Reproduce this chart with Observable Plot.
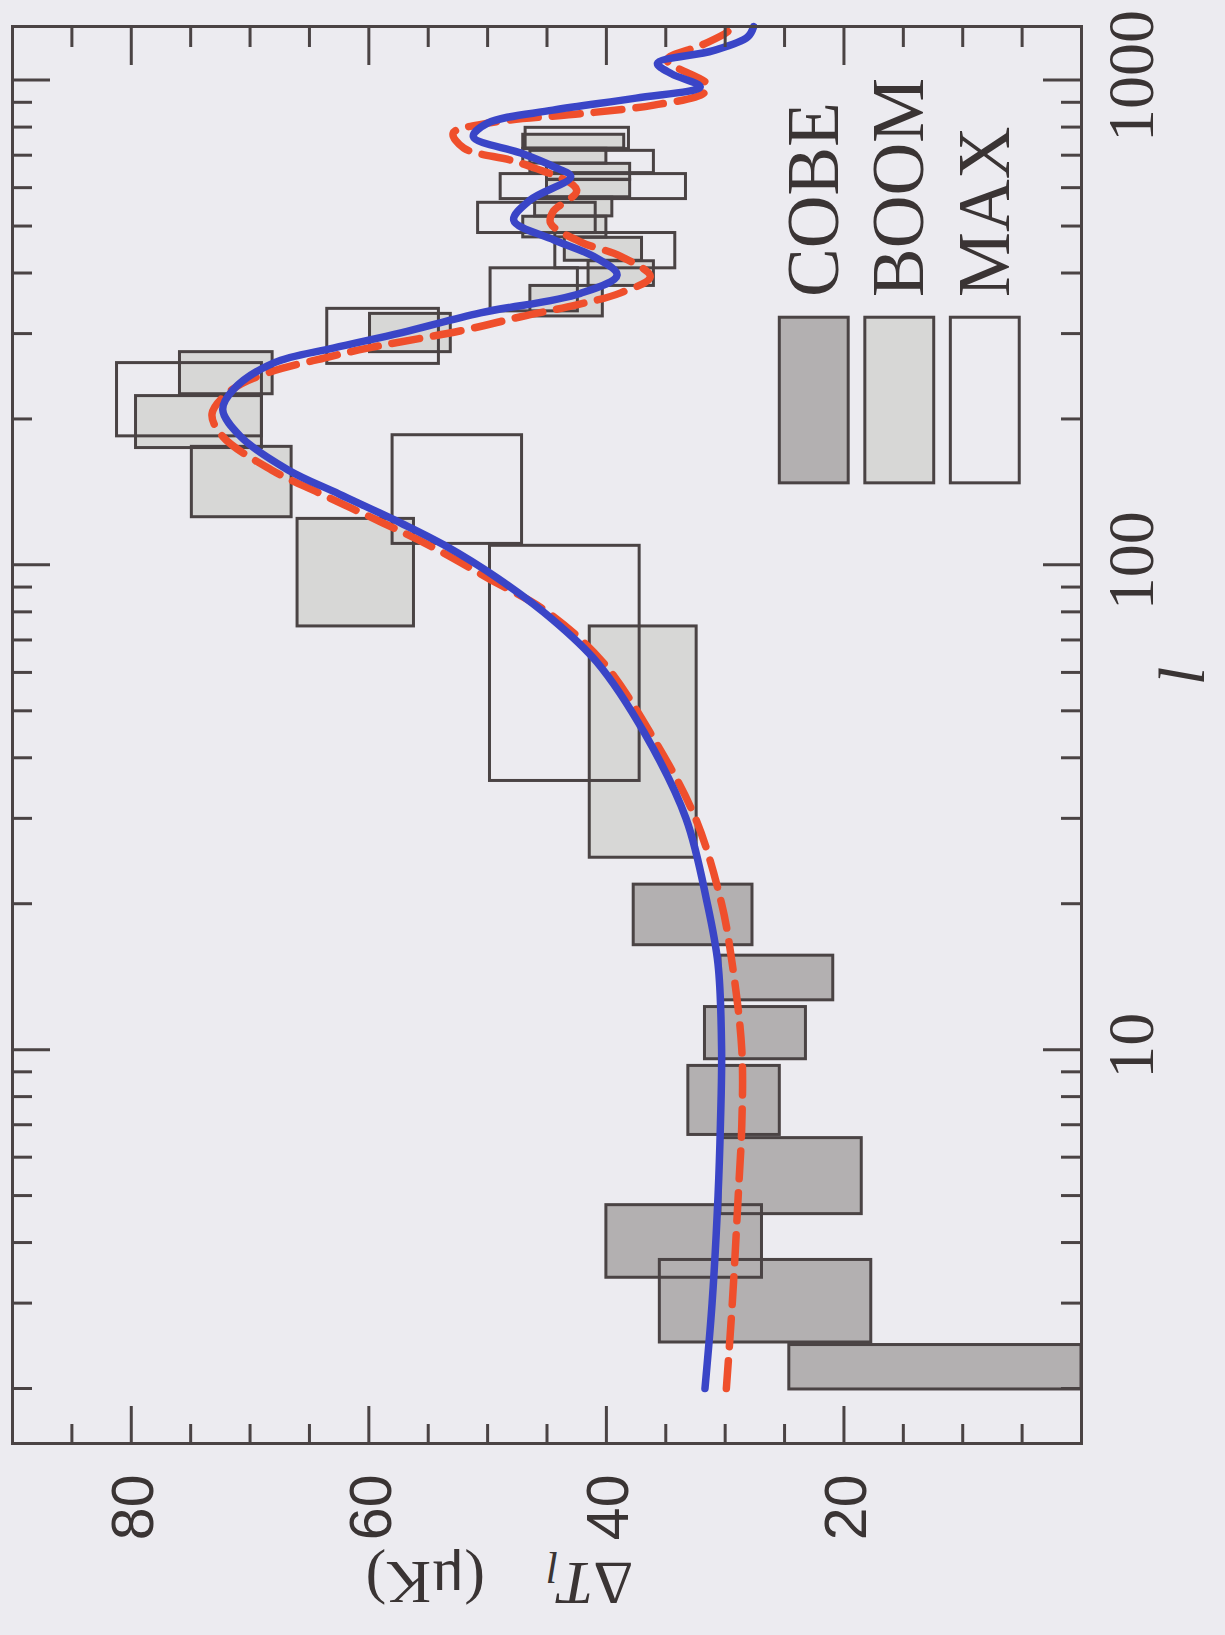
<!DOCTYPE html>
<html>
<head>
<meta charset="utf-8">
<script src="https://cdn.jsdelivr.net/npm/d3@7"></script>
<script src="https://cdn.jsdelivr.net/npm/@observablehq/plot@0.6"></script>
<style>
  html, body { margin: 0; padding: 0; background: #ecebf0; }
  #wrap { position: relative; width: 1225px; height: 1635px; overflow: hidden; background: #ecebf0; }
  #wrap svg { position: absolute; left: 0; top: 0; transform-origin: 0 0; transform: translate(0px, 1635px) rotate(-90deg); }
</style>
</head>
<body>
<div id="wrap"></div>
<script>
// Band powers: multipole range [lMin, lMax] and temperature range [tMin, tMax] (μK)
const cobeLMin = [2.0, 2.5, 3.4, 4.6, 6.7, 9.6, 12.7, 16.5];
const cobeLMax = [2.47, 3.7, 4.8, 6.6, 9.3, 12.3, 15.7, 22.0];
const cobeTMin = [0, 17.7, 26.9, 18.5, 25.4, 23.2, 20.9, 27.7];
const cobeTMax = [24.6, 35.5, 40.0, 30.4, 33.1, 31.7, 30.4, 37.7];

const boomLMin = [25, 75, 126, 175, 226, 276, 327, 378, 426, 476, 526, 576, 626, 676, 726];
const boomLMax = [75, 125, 176, 224, 276, 331, 378, 425, 475, 525, 575, 625, 675, 725, 775];
const boomTMin = [32.4, 56.2, 66.5, 69.0, 68.1, 53.1, 40.3, 36.0, 37.0, 40.0, 39.5, 38.0, 38.0, 40.0, 38.5];
const boomTMax = [41.4, 66.0, 74.9, 79.6, 75.9, 59.9, 46.4, 41.5, 43.5, 47.0, 46.0, 45.0, 45.0, 47.0, 47.0];

const maxLMin = [36, 111, 185, 261, 335, 411, 486, 571, 646, 724];
const maxLMax = [110, 186, 262, 339, 411, 486, 561, 643, 718, 801];
const maxTMin = [37.2, 47.1, 69.0, 54.1, 42.4, 34.2, 40.9, 33.3, 36.0, 38.1];
const maxTMax = [49.8, 58.0, 81.2, 63.5, 49.75, 44.3, 50.8, 48.9, 46.4, 46.8];

// Model spectra
const modelL = [2, 3, 5, 7, 10, 15, 20, 30, 45, 63, 77, 94, 110, 122, 140, 157, 184, 209, 230, 261, 280, 301, 331, 363, 396, 433, 468, 514, 566, 632, 662, 707, 764, 815, 867, 918, 969, 1030, 1083, 1150, 1228, 1290];
const solidT = [31.7, 31.1, 30.6, 30.4, 30.3, 30.6, 31.5, 33.3, 36.8, 40.8, 44.5, 49.2, 53.7, 57.3, 62.5, 66.8, 70.8, 72.3, 71.4, 68.0, 63.0, 57.3, 50.6, 42.2, 39.1, 41.1, 44.4, 47.8, 46.4, 43.0, 44.4, 47.2, 51.2, 50.0, 44.5, 37.5, 32.1, 34.5, 35.7, 31.0, 28.1, 27.6];

const dashL = [2, 3, 5, 7, 10, 15, 20, 30, 45, 63, 80, 94, 110, 122, 140, 157, 184, 205, 230, 250, 268, 280, 305, 325, 344, 364, 393, 433, 464, 507, 535, 593, 674, 724, 777, 815, 855, 888, 940, 980, 1100, 1180, 1258, 1290];
const dashT = [29.9, 29.4, 28.9, 28.6, 28.6, 29.4, 30.3, 32.5, 36.3, 40.3, 45.0, 50.0, 55.0, 58.8, 64.0, 68.2, 72.3, 73.2, 71.5, 68.3, 63.5, 60.1, 52.0, 47.2, 42.5, 38.8, 36.3, 38.8, 42.2, 44.7, 44.5, 42.5, 47.2, 52.0, 52.9, 50.0, 41.6, 36.0, 31.8, 31.5, 34.9, 32.0, 29.8, 29.5];

const lMajorTicks = [10, 100, 1000];
const lMinorTicks = [2, 3, 4, 5, 6, 7, 8, 9, 20, 30, 40, 50, 60, 70, 80, 90, 200, 300, 400, 500, 600, 700, 800, 900];
const tMajorTicks = [20, 40, 60, 80];
const tMinorTicks = [5, 10, 15, 25, 30, 35, 45, 50, 55, 65, 70, 75, 85];

const experiments = ["COBE", "BOOM", "MAX"];
const xLabel = "l";
const yLabel = "ΔT (μK)";

// ---- build tables ----
function boxes(name, l1, l2, t1, t2) {
  return l1.map((d, i) => ({exp: name, l1: d, l2: l2[i], t1: t1[i], t2: t2[i]}));
}
const allBoxes = [
  ...boxes("COBE", cobeLMin, cobeLMax, cobeTMin, cobeTMax),
  ...boxes("BOOM", boomLMin, boomLMax, boomTMin, boomTMax),
  ...boxes("MAX", maxLMin, maxLMax, maxTMin, maxTMax)
];
const solid = modelL.map((l, i) => ({l, t: solidT[i]}));
const dashed = dashL.map((l, i) => ({l, t: dashT[i]}));

const ink = "#4a4344";
const textInk = "#3a3434";
const fills = {COBE: "#b3b0b1", BOOM: "#d7d7d6", MAX: "none"};

// legend layout (in data units, inside the frame)
const legend = experiments.map((e, i) => ({exp: e, l1: 148, l2: 325, t1: 19.6 - 7.2 * i, t2: 25.4 - 7.2 * i, tc: 22.5 - 7.2 * i, lt: 357}));

const W = 1635, H = 1225;
const mL = 191, mR = 27, mT = 12, mB = 144;
const fw = W - mL - mR, fh = H - mT - mB;
const minor = 20, major = 38;

const chart = Plot.plot({
  width: W, height: H,
  marginLeft: mL, marginRight: mR, marginTop: mT, marginBottom: mB,
  x: {type: "log", domain: [1.54, 1290], axis: null},
  y: {domain: [0, 90], axis: null},
  marks: [
    // box fills
    Plot.rect(allBoxes.filter(d => d.exp !== "MAX"), {x1: "l1", x2: "l2", y1: "t1", y2: "t2", fill: d => fills[d.exp]}),
    // box outlines
    Plot.rect(allBoxes, {x1: "l1", x2: "l2", y1: "t1", y2: "t2", fill: "none", stroke: ink, strokeWidth: 3}),
    // model curves
    Plot.line(dashed, {x: "l", y: "t", curve: "catmull-rom", stroke: "#ef4f2c", strokeWidth: 7.5, strokeDasharray: "28,14"}),
    Plot.line(solid, {x: "l", y: "t", curve: "catmull-rom", stroke: "#3a45c7", strokeWidth: 7.5}),
    // legend
    Plot.rect(legend, {x1: "l1", x2: "l2", y1: "t1", y2: "t2", fill: d => fills[d.exp], stroke: ink, strokeWidth: 3}),
    Plot.text(legend, {x: "lt", y: "tc", text: "exp", textAnchor: "start", fontFamily: "Liberation Serif", fontSize: 73, fill: textInk}),
    // ticks on all four sides, pointing inward
    Plot.tickX(lMinorTicks, {x: d => d, insetTop: fh - minor, stroke: ink, strokeWidth: 3}),
    Plot.tickX(lMinorTicks, {x: d => d, insetBottom: fh - minor, stroke: ink, strokeWidth: 3}),
    Plot.tickX(lMajorTicks, {x: d => d, insetTop: fh - major, stroke: ink, strokeWidth: 3}),
    Plot.tickX(lMajorTicks, {x: d => d, insetBottom: fh - major, stroke: ink, strokeWidth: 3}),
    Plot.tickY(tMinorTicks, {y: d => d, insetRight: fw - minor, stroke: ink, strokeWidth: 3}),
    Plot.tickY(tMinorTicks, {y: d => d, insetLeft: fw - minor, stroke: ink, strokeWidth: 3}),
    Plot.tickY(tMajorTicks, {y: d => d, insetRight: fw - major, stroke: ink, strokeWidth: 3}),
    Plot.tickY(tMajorTicks, {y: d => d, insetLeft: fw - major, stroke: ink, strokeWidth: 3}),
    Plot.frame({stroke: ink, strokeWidth: 3}),
    // tick labels
    Plot.text(lMajorTicks, {x: d => d, text: d => String(d), frameAnchor: "bottom", textAnchor: "middle", lineAnchor: "top", dy: 25, dx: 4, fontFamily: "Liberation Serif", fontSize: 66, fill: textInk}),
    Plot.text(tMajorTicks, {y: d => d, text: d => String(d), frameAnchor: "left", textAnchor: "end", dx: -31, dy: 3, fontFamily: "Liberation Sans", fontSize: 59, fill: textInk}),
    // axis titles
    Plot.text([xLabel], {x: [59], text: d => d, frameAnchor: "bottom", textAnchor: "middle", lineAnchor: "top", dy: 76, fontFamily: "Liberation Serif", fontStyle: "italic", fontSize: 66, fill: textInk}),
    Plot.text([yLabel], {y: [49], text: d => d, frameAnchor: "left", textAnchor: "middle", dx: -139, rotate: -90, fontFamily: "Liberation Serif", fontSize: 62, fill: textInk})
  ]
});

chart.style.maxWidth = "none";
chart.style.background = "#ecebf0";
chart.style.width = W + "px";
chart.style.height = H + "px";

// subscripted axis title: ΔT_l (μK)
d3.select(chart).selectAll("text").filter(function() { return this.textContent === yLabel; }).each(function() {
  const t = d3.select(this);
  t.text(null);
  t.append("tspan").text("Δ");
  t.append("tspan").attr("font-style", "italic").text("T");
  t.append("tspan").attr("font-style", "italic").attr("font-size", "0.7em").attr("dy", "0.25em").text("l");
  t.append("tspan").attr("dy", "-0.17em").text("\u2003(μK)");
});

document.getElementById("wrap").appendChild(chart);
</script>
</body>
</html>
